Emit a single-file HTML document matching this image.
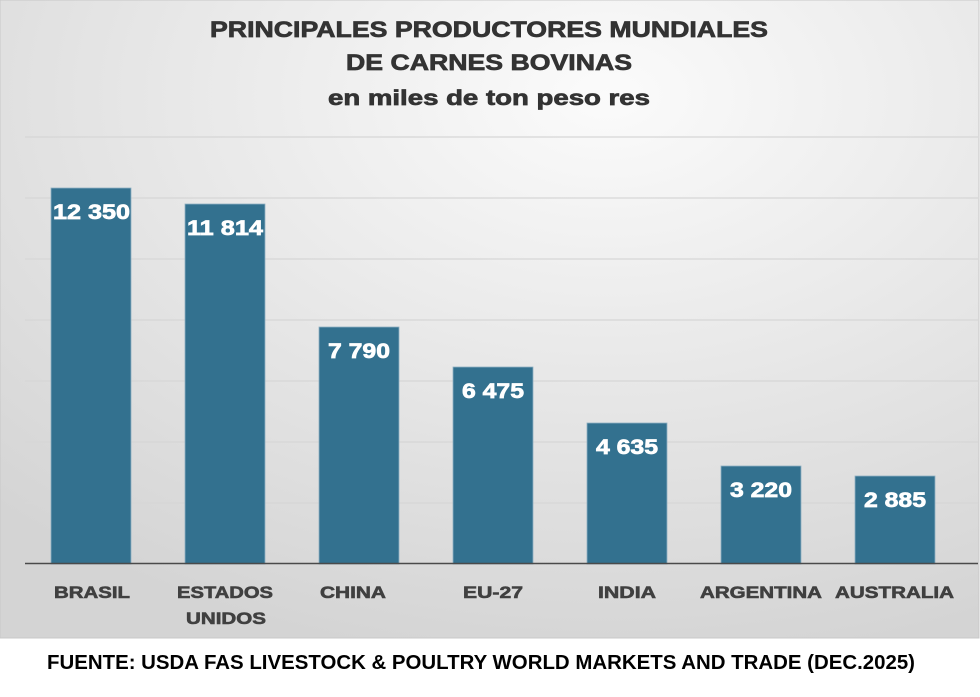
<!DOCTYPE html>
<html><head><style>body{margin:0;background:#fff}</style></head><body>
<svg width="980" height="692" xmlns="http://www.w3.org/2000/svg" font-family="Liberation Sans, Arial, sans-serif" font-weight="bold">
<defs>
<radialGradient id="bg" cx="0.62" cy="0.15" r="0.9">
<stop offset="0" stop-color="#fbfbfb"/><stop offset="1" stop-color="#d4d4d4"/>
</radialGradient>
</defs>
<rect x="0" y="0" width="979" height="638" fill="url(#bg)" stroke="#c8c8c8"/>
<g stroke="#d6d6d6" stroke-width="1.2">
<line x1="25" x2="978" y1="137" y2="137"/><line x1="25" x2="978" y1="198" y2="198"/>
<line x1="25" x2="978" y1="259" y2="259"/><line x1="25" x2="978" y1="320" y2="320"/>
<line x1="25" x2="978" y1="381" y2="381"/><line x1="25" x2="978" y1="442" y2="442"/>
<line x1="25" x2="978" y1="503" y2="503"/>
</g>
<g fill="#33718f" stroke="#8fb1c2" stroke-width="0.8">
<rect x="51" y="188" width="80" height="376"/>
<rect x="185" y="204" width="80" height="360"/>
<rect x="319" y="327" width="80" height="237"/>
<rect x="453" y="367" width="80" height="197"/>
<rect x="587" y="423" width="80" height="141"/>
<rect x="721" y="466" width="80" height="98"/>
<rect x="855" y="476" width="80" height="88"/>
</g>
<line x1="25" x2="978" y1="563.5" y2="563.5" stroke="#4a4a4a" stroke-width="1.5"/>
<g fill="#fff" stroke="#fff" stroke-width="0.7" font-size="21">
<text x="53" y="219" textLength="77" lengthAdjust="spacingAndGlyphs">12 350</text>
<text x="187" y="235" textLength="76" lengthAdjust="spacingAndGlyphs">11 814</text>
<text x="328" y="358" textLength="62" lengthAdjust="spacingAndGlyphs">7 790</text>
<text x="462" y="398" textLength="62" lengthAdjust="spacingAndGlyphs">6 475</text>
<text x="596" y="454" textLength="62" lengthAdjust="spacingAndGlyphs">4 635</text>
<text x="730" y="497" textLength="62" lengthAdjust="spacingAndGlyphs">3 220</text>
<text x="864" y="507" textLength="62" lengthAdjust="spacingAndGlyphs">2 885</text>
</g>
<g fill="#404040" stroke="#404040" stroke-width="0.6" font-size="17">
<text x="54" y="598" textLength="76" lengthAdjust="spacingAndGlyphs">BRASIL</text>
<text x="177" y="598" textLength="96" lengthAdjust="spacingAndGlyphs">ESTADOS</text>
<text x="186" y="624" textLength="80" lengthAdjust="spacingAndGlyphs">UNIDOS</text>
<text x="320" y="598" textLength="66" lengthAdjust="spacingAndGlyphs">CHINA</text>
<text x="463" y="598" textLength="60" lengthAdjust="spacingAndGlyphs">EU-27</text>
<text x="598" y="598" textLength="58" lengthAdjust="spacingAndGlyphs">INDIA</text>
<text x="700" y="598" textLength="122" lengthAdjust="spacingAndGlyphs">ARGENTINA</text>
<text x="835" y="598" textLength="119" lengthAdjust="spacingAndGlyphs">AUSTRALIA</text>
</g>
<g fill="#333" stroke="#333" stroke-width="0.7">
<text x="210" y="37" font-size="22" textLength="558" lengthAdjust="spacingAndGlyphs">PRINCIPALES PRODUCTORES MUNDIALES</text>
<text x="346" y="70" font-size="22" textLength="286" lengthAdjust="spacingAndGlyphs">DE CARNES BOVINAS</text>
<text x="328" y="105" font-size="21" textLength="322" lengthAdjust="spacingAndGlyphs">en miles de ton peso res</text>
</g>
<text x="47" y="669" font-size="20" fill="#000" textLength="868" lengthAdjust="spacingAndGlyphs">FUENTE:  USDA FAS LIVESTOCK &amp; POULTRY WORLD MARKETS AND TRADE (DEC.2025)</text>
</svg>
</body></html>
